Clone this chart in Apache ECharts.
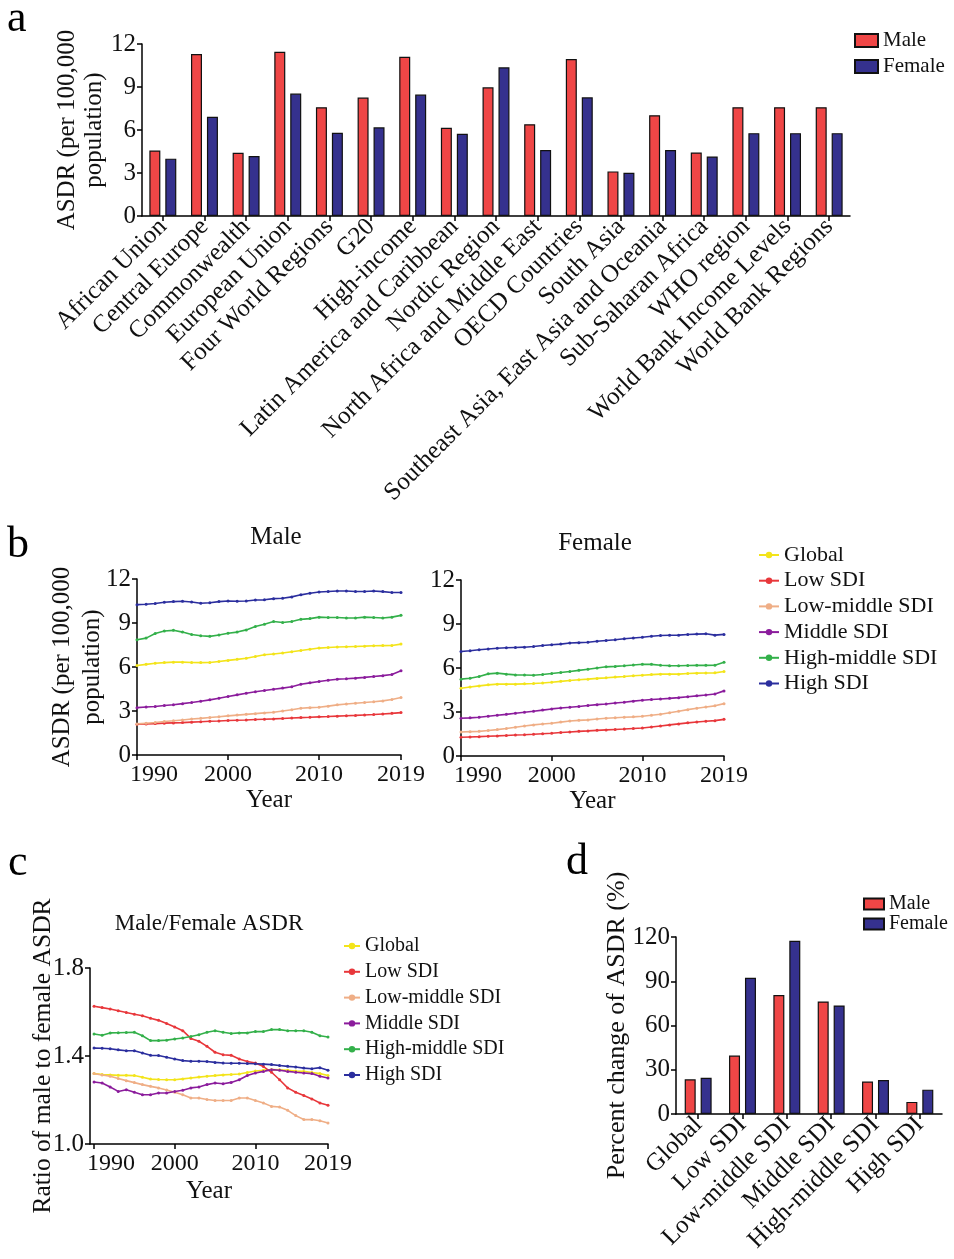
<!DOCTYPE html>
<html>
<head>
<meta charset="utf-8">
<script src="https://cdn.jsdelivr.net/npm/echarts@6/dist/echarts.min.js"></script>
<style>
  html, body { margin: 0; padding: 0; background: #fff; }
  #chart { width: 954px; height: 1259px; }
</style>
</head>
<body>
<div id="chart"></div>
<script>
// ---------- Panel a: ASDR by region grouping ----------
const regionCategories = [
  'African Union', 'Central Europe', 'Commonwealth', 'European Union', 'Four World Regions',
  'G20', 'High-income', 'Latin America and Caribbean', 'Nordic Region', 'North Africa and Middle East',
  'OECD Countries', 'South Asia', 'Southeast Asia, East Asia and Oceania', 'Sub-Saharan Africa',
  'WHO region', 'World Bank Income Levels', 'World Bank Regions'
];
const regionMale   = [4.57, 11.30, 4.41, 11.46, 7.59, 8.26, 11.11, 6.15, 8.98, 6.40, 10.95, 3.11, 7.03, 4.43, 7.59, 7.59, 7.59];
const regionFemale = [4.00, 6.92, 4.18, 8.54, 5.80, 6.19, 8.47, 5.73, 10.37, 4.60, 8.28, 3.02, 4.60, 4.15, 5.78, 5.78, 5.78];
const asdrTicks = [0, 3, 6, 9, 12];

// ---------- Panel b: ASDR trends by SDI, 1990-2019 ----------
const years = [1990,1991,1992,1993,1994,1995,1996,1997,1998,1999,2000,2001,2002,2003,2004,
               2005,2006,2007,2008,2009,2010,2011,2012,2013,2014,2015,2016,2017,2018,2019];
const yearTicks = [1990, 2000, 2010, 2019];
const sdiNames = ['Global', 'Low SDI', 'Low-middle SDI', 'Middle SDI', 'High-middle SDI', 'High SDI'];

const maleGlobal     = [6.10,6.18,6.26,6.30,6.33,6.33,6.31,6.30,6.31,6.38,6.45,6.52,6.60,6.72,6.83,6.89,6.95,7.04,7.13,7.21,7.29,7.33,7.36,7.38,7.40,7.42,7.45,7.46,7.47,7.56];
const maleLow        = [2.10,2.12,2.14,2.17,2.19,2.21,2.24,2.27,2.30,2.32,2.35,2.37,2.39,2.42,2.44,2.46,2.49,2.52,2.55,2.57,2.60,2.62,2.65,2.68,2.70,2.73,2.76,2.80,2.84,2.89];
const maleLowMiddle  = [2.12,2.17,2.22,2.28,2.33,2.39,2.45,2.50,2.56,2.61,2.67,2.72,2.77,2.82,2.87,2.92,3.00,3.08,3.19,3.23,3.26,3.33,3.42,3.48,3.53,3.58,3.63,3.69,3.78,3.92];
const maleMiddle     = [3.23,3.27,3.31,3.37,3.43,3.50,3.58,3.67,3.76,3.87,3.99,4.10,4.21,4.31,4.40,4.48,4.56,4.65,4.82,4.92,5.01,5.10,5.17,5.20,5.24,5.29,5.35,5.41,5.49,5.74];
const maleHighMiddle = [7.86,7.97,8.28,8.45,8.50,8.38,8.22,8.13,8.09,8.18,8.30,8.38,8.53,8.76,8.92,9.10,9.03,9.10,9.25,9.30,9.40,9.38,9.38,9.34,9.34,9.40,9.38,9.34,9.40,9.52];
const maleHigh       = [10.25,10.28,10.33,10.42,10.46,10.48,10.43,10.35,10.38,10.46,10.50,10.48,10.50,10.57,10.58,10.66,10.69,10.78,10.92,11.03,11.11,11.15,11.18,11.18,11.15,11.15,11.18,11.14,11.08,11.08];

const femaleGlobal     = [4.62,4.70,4.78,4.85,4.90,4.90,4.90,4.92,4.94,4.98,5.03,5.09,5.15,5.20,5.24,5.29,5.33,5.38,5.42,5.47,5.51,5.55,5.58,5.58,5.58,5.62,5.65,5.66,5.67,5.76];
const femaleLow        = [1.28,1.30,1.32,1.35,1.37,1.40,1.43,1.45,1.48,1.52,1.55,1.60,1.64,1.68,1.71,1.75,1.78,1.81,1.84,1.88,1.91,1.98,2.05,2.12,2.19,2.26,2.32,2.37,2.41,2.50];
const femaleLowMiddle  = [1.64,1.66,1.68,1.74,1.80,1.88,1.96,2.04,2.12,2.18,2.23,2.31,2.39,2.43,2.46,2.52,2.57,2.61,2.64,2.67,2.71,2.78,2.85,2.95,3.05,3.16,3.26,3.34,3.42,3.57];
const femaleMiddle     = [2.57,2.60,2.64,2.71,2.78,2.84,2.91,2.98,3.05,3.13,3.21,3.27,3.32,3.38,3.44,3.50,3.55,3.61,3.67,3.74,3.80,3.85,3.89,3.93,3.98,4.04,4.10,4.16,4.23,4.44];
const femaleHighMiddle = [5.24,5.30,5.42,5.60,5.65,5.58,5.53,5.52,5.51,5.56,5.62,5.69,5.76,5.84,5.92,6.00,6.08,6.11,6.15,6.20,6.26,6.25,6.19,6.16,6.15,6.17,6.19,6.18,6.19,6.40];
const femaleHigh       = [7.13,7.18,7.24,7.30,7.35,7.38,7.40,7.42,7.47,7.53,7.58,7.63,7.70,7.73,7.76,7.82,7.88,7.93,7.99,8.05,8.10,8.16,8.22,8.23,8.24,8.28,8.31,8.33,8.24,8.29];

// ---------- Panel c: male-to-female ratio ----------
const ratioGlobal     = [1.320,1.316,1.314,1.312,1.312,1.311,1.303,1.295,1.293,1.292,1.292,1.296,1.300,1.304,1.308,1.311,1.314,1.316,1.318,1.325,1.332,1.335,1.338,1.337,1.335,1.332,1.330,1.325,1.320,1.311];
const ratioLow        = [1.626,1.620,1.614,1.606,1.598,1.590,1.583,1.572,1.562,1.548,1.532,1.515,1.480,1.467,1.444,1.417,1.406,1.403,1.386,1.375,1.368,1.352,1.326,1.292,1.255,1.235,1.220,1.205,1.186,1.176];
const ratioLowMiddle  = [1.320,1.314,1.308,1.298,1.288,1.279,1.270,1.262,1.255,1.245,1.235,1.224,1.209,1.209,1.202,1.198,1.198,1.198,1.209,1.209,1.198,1.186,1.171,1.168,1.153,1.129,1.111,1.111,1.106,1.095];
const ratioMiddle     = [1.282,1.277,1.259,1.239,1.247,1.235,1.224,1.224,1.232,1.232,1.239,1.244,1.255,1.259,1.270,1.277,1.274,1.280,1.292,1.311,1.323,1.330,1.338,1.335,1.330,1.326,1.323,1.320,1.308,1.300];
const ratioHighMiddle = [1.500,1.494,1.505,1.506,1.507,1.508,1.492,1.470,1.470,1.472,1.477,1.482,1.489,1.497,1.508,1.515,1.508,1.502,1.505,1.505,1.511,1.511,1.520,1.520,1.515,1.515,1.515,1.508,1.492,1.486];
const ratioHigh       = [1.436,1.435,1.433,1.428,1.424,1.424,1.414,1.403,1.402,1.394,1.386,1.379,1.376,1.376,1.375,1.371,1.368,1.367,1.367,1.366,1.365,1.363,1.361,1.357,1.353,1.350,1.345,1.342,1.347,1.335];

// ---------- Panel d: percent change 1990-2019 ----------
const changeCategories = ['Global', 'Low SDI', 'Low-middle SDI', 'Middle SDI', 'High-middle SDI', 'High SDI'];
const changeMale   = [23.5, 39.6, 80.6, 76.3, 22.0, 8.2];
const changeFemale = [24.5, 92.4, 117.5, 73.6, 23.1, 16.5];

// ---------- styling ----------
const FONT = 'Liberation Serif';
const RED = '#EF4646';
const BLUE = '#35318E';
const sdiColors = ['#F3E41A', '#E8373B', '#EFAE86', '#8B1C9C', '#33B04A', '#2B2E9E'];

const maleSets   = [maleGlobal, maleLow, maleLowMiddle, maleMiddle, maleHighMiddle, maleHigh];
const femaleSets = [femaleGlobal, femaleLow, femaleLowMiddle, femaleMiddle, femaleHighMiddle, femaleHigh];
const ratioSets  = [ratioGlobal, ratioLow, ratioLowMiddle, ratioMiddle, ratioHighMiddle, ratioHigh];

const axisLine = { show: true, lineStyle: { color: '#000', width: 1.5 } };
const axisTick = { show: true, length: 5, lineStyle: { color: '#000', width: 1.5 } };
const tickFont = { color: '#111', fontFamily: FONT, fontSize: 25 };

function yearLabel(v) {
  return v === 1990 ? '{first|1990}' : String(v);
}
const yearRich = { first: { fontFamily: FONT, fontSize: 24, color: '#111', padding: [0, 0, 0, 34] } };

function yearAxis(gridIndex, min, gap) {
  return {
    type: 'value', gridIndex, min, max: 2019,
    name: 'Year', nameLocation: 'middle', nameGap: gap, nameMoveOverlap: false,
    nameTextStyle: { fontFamily: FONT, fontSize: 25, color: '#111' },
    axisLine, splitLine: { show: false },
    axisTick: Object.assign({}, axisTick, { customValues: yearTicks }),
    axisLabel: Object.assign({}, tickFont, { fontSize: 24, customValues: yearTicks, margin: 8, formatter: yearLabel, rich: yearRich })
  };
}
function asdrAxis(gridIndex, name, gap, lh) {
  return {
    type: 'value', gridIndex, min: 0, max: 12, interval: 3,
    name, nameLocation: 'middle', nameGap: gap, nameMoveOverlap: false,
    nameTextStyle: { fontFamily: FONT, fontSize: 25, color: '#111', lineHeight: lh },
    axisLine, axisTick, splitLine: { show: false },
    axisLabel: Object.assign({}, tickFont, { margin: 6, customValues: asdrTicks })
  };
}
function trendSeries(sets, xIdx, yIdx) {
  return sets.map((vals, i) => ({
    name: sdiNames[i], type: 'line', xAxisIndex: xIdx, yAxisIndex: yIdx,
    data: years.map((y, k) => [y, vals[k]]),
    symbol: 'circle', symbolSize: 3, showSymbol: true,
    lineStyle: { color: sdiColors[i], width: 1.6 },
    itemStyle: { color: sdiColors[i] },
    z: 3
  }));
}
function letter(t, x, y) {
  return { type: 'text', x, y, style: { text: t, fontFamily: FONT, fontSize: 44, fill: '#000', align: 'left', verticalAlign: 'top' } };
}
function heading(t, x, y, size) {
  return { type: 'text', x, y, style: { text: t, fontFamily: FONT, fontSize: size, fill: '#111', align: 'center', verticalAlign: 'middle' } };
}

const sdiLegend = (left, top, w, size, gap) => ({
  data: sdiNames, orient: 'vertical', left, top, padding: 0,
  itemWidth: w, itemHeight: 8, itemGap: gap,
  textStyle: { fontFamily: FONT, fontSize: size, color: '#111', lineHeight: size }
});
const sexLegend = (left, top, w, h, size, gap) => ({
  data: ['Male', 'Female'], orient: 'vertical', left, top, padding: 0,
  icon: 'rect', itemWidth: w, itemHeight: h, itemGap: gap,
  textStyle: { fontFamily: FONT, fontSize: size, color: '#111', lineHeight: size }
});

const option = {
  animation: false,
  backgroundColor: '#fff',
  grid: [
    { left: 142, top: 44, width: 708, height: 172 },   // a
    { left: 137, top: 579, width: 264, height: 176 },  // b male
    { left: 461, top: 580, width: 263, height: 176 },  // b female
    { left: 90,  top: 968, width: 238, height: 176 },  // c
    { left: 676, top: 937, width: 266, height: 177 }   // d
  ],
  legend: [
    sexLegend(854, 30, 23, 13, 21, 5),
    sdiLegend(758, 544, 20, 22, 3.7),
    sdiLegend(343, 936, 16, 20, 5.8),
    sexLegend(863, 894, 20, 11, 20, 0)
  ],
  xAxis: [
    {
      type: 'category', gridIndex: 0, data: regionCategories,
      axisLine, axisTick: Object.assign({}, axisTick, { alignWithLabel: true }),
      axisLabel: Object.assign({}, tickFont, { fontSize: 25, rotate: 45, interval: 0, margin: 7 })
    },
    yearAxis(1, 1990, 33),
    yearAxis(2, 1990, 33),
    yearAxis(3, 1989.5, 35),
    {
      type: 'category', gridIndex: 4, data: changeCategories,
      axisLine, axisTick: Object.assign({}, axisTick, { alignWithLabel: true }),
      axisLabel: Object.assign({}, tickFont, { fontSize: 25, rotate: 45, interval: 0, margin: 7 })
    }
  ],
  yAxis: [
    asdrAxis(0, 'ASDR (per 100,000\npopulation)', 34, 27),
    asdrAxis(1, 'ASDR (per 100,000\npopulation)', 30, 30),
    asdrAxis(2, '', 30, 27),
    {
      type: 'value', gridIndex: 3, min: 1.0, max: 1.8, interval: 0.4,
      name: 'Ratio of male to female ASDR', nameLocation: 'middle', nameGap: 34, nameMoveOverlap: false,
      nameTextStyle: { fontFamily: FONT, fontSize: 25.5, color: '#111' },
      axisLine, axisTick, splitLine: { show: false },
      axisLabel: Object.assign({}, tickFont, { margin: 6, formatter: v => v.toFixed(1) })
    },
    {
      type: 'value', gridIndex: 4, min: 0, max: 120, interval: 30,
      name: 'Percent change of ASDR (%)', nameLocation: 'middle', nameGap: 46, nameMoveOverlap: false,
      nameTextStyle: { fontFamily: FONT, fontSize: 26, color: '#111' },
      axisLine, axisTick, splitLine: { show: false },
      axisLabel: Object.assign({}, tickFont, { margin: 6 })
    }
  ],
  series: [
    { name: 'Male', type: 'bar', xAxisIndex: 0, yAxisIndex: 0, data: regionMale, barWidth: 11, barGap: '45%',
      itemStyle: { color: RED, borderColor: '#111', borderWidth: 1.2 } },
    { name: 'Female', type: 'bar', xAxisIndex: 0, yAxisIndex: 0, data: regionFemale, barWidth: 11, barGap: '45%',
      itemStyle: { color: BLUE, borderColor: '#111', borderWidth: 1.2 } },
    ...trendSeries(maleSets, 1, 1),
    ...trendSeries(femaleSets, 2, 2),
    ...trendSeries(ratioSets, 3, 3),
    { name: 'Male', type: 'bar', xAxisIndex: 4, yAxisIndex: 4, data: changeMale, barWidth: 11, barGap: '45%',
      itemStyle: { color: RED, borderColor: '#111', borderWidth: 1.2 } },
    { name: 'Female', type: 'bar', xAxisIndex: 4, yAxisIndex: 4, data: changeFemale, barWidth: 11, barGap: '45%',
      itemStyle: { color: BLUE, borderColor: '#111', borderWidth: 1.2 } }
  ],
  graphic: [
    letter('a', 7, -3),
    letter('b', 7, 523),
    letter('c', 8, 841),
    letter('d', 566, 840),
    heading('Male', 276, 537, 25),
    heading('Female', 595, 543, 25),
    heading('Male/Female ASDR', 209, 924, 23)
  ]
};

const chart = echarts.init(document.getElementById('chart'), null, { renderer: 'canvas' });
chart.setOption(option);
</script>
</body>
</html>
